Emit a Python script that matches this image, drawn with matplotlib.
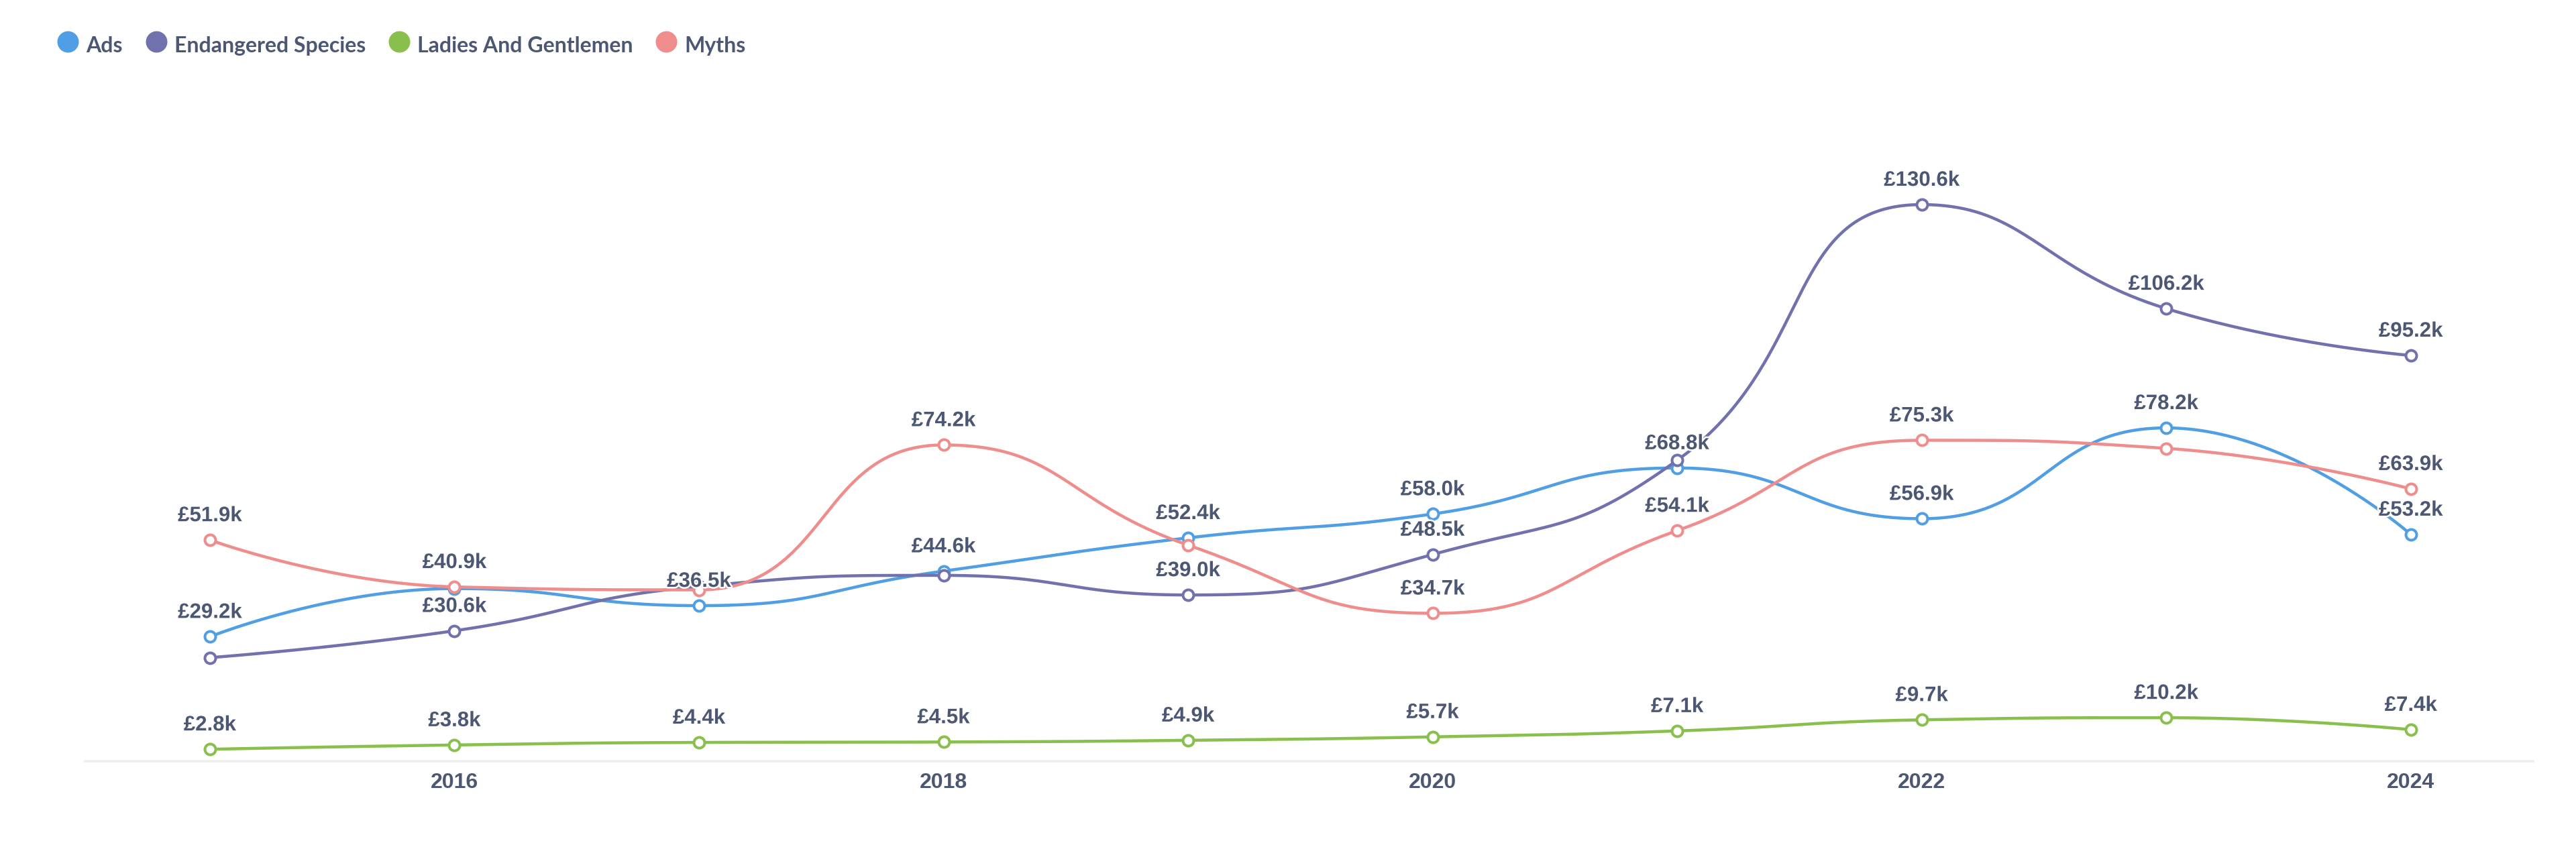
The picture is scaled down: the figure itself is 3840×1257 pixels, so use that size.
import numpy as np
import matplotlib
matplotlib.use("Agg")
import matplotlib.pyplot as plt
from matplotlib import patheffects as pe
from matplotlib.lines import Line2D

# ---------------- data (values in thousands of £) ----------------
years = [2015, 2016, 2017, 2018, 2019, 2020, 2021, 2022, 2023, 2024]
series_names = ["Ads", "Endangered Species", "Ladies And Gentlemen", "Myths"]
ads = [29.2, 40.5, 36.5, 44.6, 52.4, 58.0, 68.8, 56.9, 78.2, 53.2]
endangered = [24.3, 30.6, 41.0, 43.6, 39.0, 48.5, 70.6, 130.6, 106.2, 95.2]
ladies = [2.8, 3.8, 4.4, 4.5, 4.9, 5.7, 7.1, 9.7, 10.2, 7.4]
myths = [51.9, 40.9, 40.2, 74.2, 50.7, 34.7, 54.1, 75.3, 73.4, 63.9]
x_ticks = [2016, 2018, 2020, 2022, 2024]
# labels hidden in the reference (overlap avoidance)
hidden_labels = {
    "Ads": [2016],
    "Endangered Species": [2015, 2017, 2018, 2021],
    "Ladies And Gentlemen": [],
    "Myths": [2017, 2019, 2023],
}

values = {
    "Ads": ads,
    "Endangered Species": endangered,
    "Ladies And Gentlemen": ladies,
    "Myths": myths,
}
colors = {
    "Ads": "#509EE3",
    "Endangered Species": "#7172AD",
    "Ladies And Gentlemen": "#88BF4D",
    "Myths": "#EF8C8C",
}
TEXT = "#4C5773"

W, H, DPI = 3840, 1257, 100
PT = 72.0 / DPI  # points per pixel

fig = plt.figure(figsize=(W / DPI, H / DPI), dpi=DPI)
fig.patch.set_facecolor("white")
ax = fig.add_axes([127 / W, 1 - 1135 / H, (3776 - 127) / W, (1135 - 150) / H])
ax.set_xlim(2014.49, 2024.5)
ax.set_ylim(0, 155)

for s in ["top", "right", "left"]:
    ax.spines[s].set_visible(False)
ax.spines["bottom"].set_color("#EDEDED")
ax.spines["bottom"].set_linewidth(3.5 * PT)
ax.set_yticks([])
ax.set_xticks(x_ticks)
ax.set_xticklabels([str(t) for t in x_ticks])
ax.tick_params(axis="x", length=0, pad=17 * PT, labelsize=23, labelcolor=TEXT)
for lab in ax.get_xticklabels():
    lab.set_fontfamily("Liberation Sans")
    lab.set_fontweight("bold")


def echarts_smooth(px, py, smooth=0.5):
    n = len(px)
    segs = []
    cpx0, cpy0 = px[0], py[0]
    for i in range(1, n):
        x, y = px[i], py[i]
        prevX, prevY = px[i - 1], py[i - 1]
        if i == n - 1:
            cpx1, cpy1 = x, y
            nx0, ny0 = x, y
        else:
            nextX, nextY = px[i + 1], py[i + 1]
            vx = nextX - prevX
            vy = nextY - prevY
            lp = np.hypot(x - prevX, y - prevY)
            ln = np.hypot(nextX - x, nextY - y)
            r = ln / (ln + lp)
            nx0 = x + vx * smooth * r
            ny0 = y + vy * smooth * r
            nx0 = min(nx0, max(nextX, x)); ny0 = min(ny0, max(nextY, y))
            nx0 = max(nx0, min(nextX, x)); ny0 = max(ny0, min(nextY, y))
            vx = nx0 - x
            vy = ny0 - y
            cpx1 = x - vx * lp / ln
            cpy1 = y - vy * lp / ln
            cpx1 = min(cpx1, max(prevX, x)); cpy1 = min(cpy1, max(prevY, y))
            cpx1 = max(cpx1, min(prevX, x)); cpy1 = max(cpy1, min(prevY, y))
            vx = x - cpx1
            vy = y - cpy1
            nx0 = x + vx * ln / lp
            ny0 = y + vy * ln / lp
        segs.append(((prevX, prevY), (cpx0, cpy0), (cpx1, cpy1), (x, y)))
        cpx0, cpy0 = nx0, ny0
    return segs


def bezier_points(segs, m=80):
    t = np.linspace(0, 1, m)[:, None]
    out = []
    for p0, p1, p2, p3 in segs:
        p0, p1, p2, p3 = map(np.array, (p0, p1, p2, p3))
        pts = ((1 - t) ** 3) * p0 + 3 * ((1 - t) ** 2) * t * p1 + 3 * (1 - t) * t ** 2 * p2 + t ** 3 * p3
        out.append(pts)
    return np.vstack(out)


fig.canvas.draw()
to_px = ax.transData
to_data = ax.transData.inverted()

for z, name in enumerate(series_names):
    vals = values[name]
    pix = to_px.transform(np.column_stack([years, vals]))
    segs = echarts_smooth(pix[:, 0], pix[:, 1])
    curve = to_data.transform(bezier_points(segs))
    ax.plot(curve[:, 0], curve[:, 1], color=colors[name], lw=4.5 * PT,
            solid_capstyle="round", zorder=2 + z, clip_on=False)
    ax.plot(years, vals, linestyle="none", marker="o", markersize=16 * PT,
            markerfacecolor="white", markeredgecolor=colors[name],
            markeredgewidth=4 * PT, zorder=2 + z, clip_on=False)

for name in series_names:
    for yr, v in zip(years, values[name]):
        if yr in hidden_labels[name]:
            continue
        ax.annotate(f"£{v:.1f}k", (yr, v), xytext=(0, 28 * PT), textcoords="offset points",
                    ha="center", va="baseline", fontsize=22.5, fontweight="bold",
                    fontfamily="Liberation Sans", color=TEXT, zorder=20,
                    path_effects=[pe.withStroke(linewidth=5 * PT, foreground="white")])

# ---------------- legend ----------------
renderer = fig.canvas.get_renderer()
x = 85.0
yc = H - 62.0
ybase = H - 78.3
r_px = 16
for name in series_names:
    fig.add_artist(Line2D([(x + r_px) / W], [yc / H], marker="o", markersize=2 * r_px * PT,
                          color=colors[name], markeredgewidth=0, linestyle="none",
                          transform=fig.transFigure))
    t = fig.text((x + 2 * r_px + 11) / W, ybase / H, name, ha="left", va="baseline",
                 fontsize=23, fontweight="bold", fontfamily="Lato", color=TEXT)
    bb = t.get_window_extent(renderer)
    x = bb.x1 + 34

fig.savefig("out.png", dpi=DPI, facecolor="white")
